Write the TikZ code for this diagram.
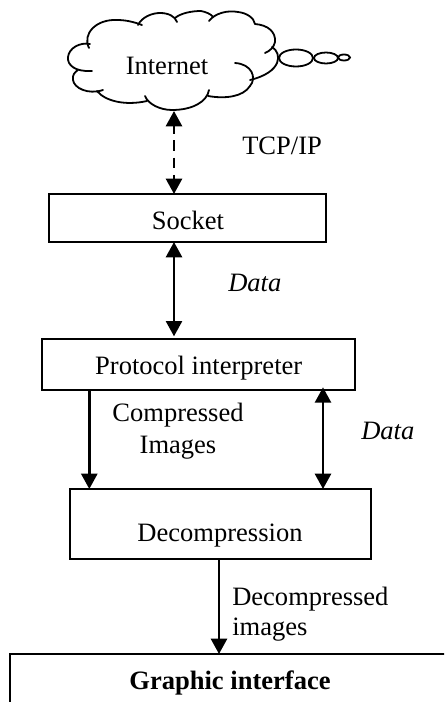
\documentclass[tikz,border=0pt]{standalone}
\usepackage{fontspec}
\setmainfont{Liberation Serif}
\usetikzlibrary{arrows.meta}
\tikzset{
 px/.style={x=0.75pt,y=-0.75pt},
 box/.style={draw,line width=1.5pt,inner sep=0pt,outer sep=0pt,anchor=north west},
 lbl/.style={font=\fontsize{19.9pt}{24pt}\selectfont,inner sep=0pt,anchor=base},
 lblw/.style={lbl,anchor=base west},
 ital/.style={lblw,font=\itshape\fontsize{19.9pt}{24pt}\selectfont},
 flow/.style={line width=2pt,-{Triangle[length=11.5pt,width=12pt]}},
 dflow/.style={line width=2pt,{Triangle[length=11.5pt,width=12pt]}-{Triangle[length=11.5pt,width=12pt]}},
 curve/.style={line width=1.35pt,line cap=round}
}
\begin{document}
\begin{tikzpicture}[px]
\useasboundingbox (0,0) rectangle (444,702);
\clip (0,0) rectangle (444,702);
% cloud
\coordinate (cloud) at (174,111);
\draw[curve] (89,48) .. controls (82,34) and (96,19) .. (117,20) .. controls (126,20) and (134,22) .. (142,25);
\draw[curve] (138,25) .. controls (142,17) and (152,13) .. (160,13) .. controls (168,13) and (175,16) .. (177,22);
\draw[curve] (175,18) .. controls (181,13) and (192,11) .. (201,11) .. controls (206,12) and (211,14) .. (213,17);
\draw[curve] (209,21) .. controls (215,13) and (228,10) .. (238,12) .. controls (247,13) and (254,18) .. (255,24);
\draw[curve] (255,24) .. controls (268,25) and (276,32) .. (275,42) .. controls (274,47) and (270,51) .. (265,53);
\draw[curve] (272,47) .. controls (282,53) and (283,72) .. (250,80);
\draw[curve] (235,63) .. controls (252,64) and (257,78) .. (250,86) .. controls (243,97) and (225,99) .. (208,96);
\draw[curve] (209,90) .. controls (207,102) and (192,110) .. (172,110) .. controls (160,110) and (148,104) .. (145,96);
\draw[curve] (97,91) .. controls (105,101) and (125,106) .. (147,101);
\draw[curve] (103,90) .. controls (88,95) and (74,88) .. (73,80) .. controls (72,75) and (75,72) .. (78,70);
\draw[curve] (92,71) .. controls (75,72) and (67,65) .. (68,57) .. controls (69,48) and (80,42) .. (90,44);
\draw[curve] (296,58) ellipse [x radius=17,y radius=8.5];
\draw[curve] (326,58) ellipse [x radius=12,y radius=5.5];
\draw[curve] (344,57.5) ellipse [x radius=6,y radius=3];
\node[lbl] (internet) at (167,75) {Internet};
% boxes
\node[box,minimum width=208pt,minimum height=36pt] (socket) at (49,194) {};
\node[lbl] (sockettxt) at (188,229) {Socket};
\node[box,minimum width=235pt,minimum height=38.25pt] (proto) at (41.7,339) {};
\node[lbl] (prototxt) at (198.7,374) {Protocol interpreter};
\node[box,minimum width=225.75pt,minimum height=52.5pt] (dec) at (70,489) {};
\node[lbl] (dectxt) at (220,541) {Decompression};
\node[box,minimum width=375pt,minimum height=60pt] (gui) at (10,654) {};
\node[lbl,font=\bfseries\fontsize{19.9pt}{24pt}\selectfont] (guitxt) at (230,689) {Graphic interface};
% connectors
\draw[dflow,dash pattern=on 8pt off 5pt,dash phase=2pt] (cloud) -- (cloud |- socket.north);
\draw[dflow] (cloud |- socket.south) -- ([yshift=2pt]cloud |- proto.north);
\draw[flow] (89.3,0 |- proto.south) -- (89.3,0 |- dec.north);
\draw[dflow,shorten <=-2pt] (323,0 |- proto.south) -- (323,0 |- dec.north);
\draw[flow] (219,0 |- dec.south) -- (219,0 |- gui.north);
% labels
\node[lblw] (tcp) at (242,155) {TCP/IP};
\node[ital] (data1) at (228,291) {Data};
\node[lbl] (comp) at (178,421) {Compressed};
\node[lbl] (imgs) at (178,453) {Images};
\node[ital] (data2) at (361,439) {Data};
\node[lblw] (decomp) at (232,605) {Decompressed};
\node[lblw] (dimgs) at (232,635) {images};
\end{tikzpicture}
\end{document}
